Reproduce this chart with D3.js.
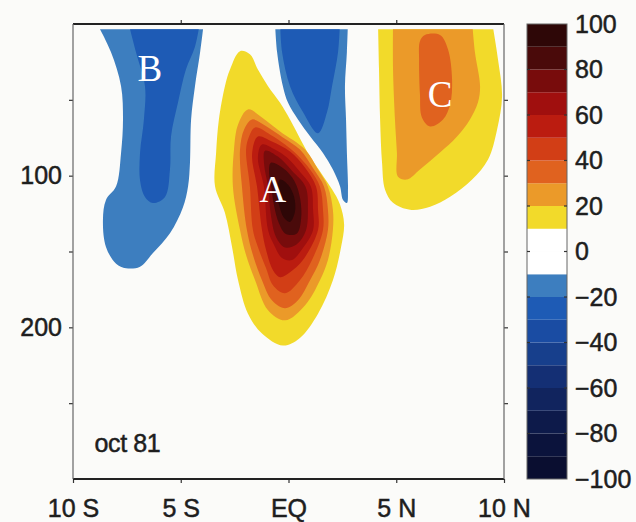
<!DOCTYPE html>
<html>
<head>
<meta charset="utf-8">
<script src="https://cdn.jsdelivr.net/npm/d3@7"></script>
<style>
  body { margin: 0; background: #fbfbf9; }
  svg { display: block; font-family: "Liberation Sans", Arial, sans-serif; }
</style>
</head>
<body>
<svg id="chart" width="636" height="522"></svg>
<script>
// axis ticks and labels
var latTicks   = [-10, -5, 0, 5, 10];
var latLabels  = ['10 S', '5 S', 'EQ', '5 N', '10 N'];
var depthTicks = [50, 100, 150, 200, 250];
var depthLabels = [100, 200];
var cbTicks    = [-100, -80, -60, -40, -20, 0, 20, 40, 60, 80, 100];

// colour levels (edges) and one colour per bin
var levels    = [-100, -90, -80, -70, -60, -50, -40, -30, -20, -10, 0, 10, 20, 30, 40, 50, 60, 70, 80, 90, 100];
var binColors = ['#0a0e30', '#0b133c', '#0d1a4a', '#11245e', '#142f74', '#173f8c', '#1a4ca3', '#1e5bb5', '#3d7ebf', '#ffffff',
                 '#ffffff', '#f2da2a', '#eb9a29', '#e0621f', '#d23e16', '#bb1c10', '#a00f0e', '#780c0c', '#4a0a0a', '#2e0707'];

// contour outlines, [latitude, depth]
// "B" westward core south of the equator
var bNeg10 = [[-8.95,-2],[-8.24,18.5],[-7.77,41],[-7.68,63],[-7.77,85],[-8.0,107],[-8.47,116],[-8.61,129],[-8.47,147],[-8.0,158],
              [-7.54,161],[-6.89,160],[-6.29,151],[-5.5,138],[-4.9,121],[-4.66,107],[-4.57,91],[-4.52,63],[-4.34,41],[-4.1,18.5],[-3.92,-2]];
var bNeg20 = [[-7.45,-2],[-7.08,18.5],[-6.66,41],[-6.71,63],[-6.89,85],[-6.89,103],[-6.66,114],[-6.29,118],[-5.73,114],[-5.5,96],
              [-5.45,74],[-5.13,52],[-4.76,30],[-4.34,15],[-4.1,-2]];
// surface westward flow at the equator
var eqNeg10 = [[-0.63,-2],[-0.53,18.5],[-0.26,41],[-0.02,52],[0.44,63],[1.0,74],[1.6,85],[2.06,96],[2.39,107],[2.53,116],
               [2.71,118],[2.76,109],[2.71,85],[2.67,63],[2.62,41],[2.71,18.5],[2.76,-2]];
var eqNeg20 = [[-0.39,-2],[-0.3,18.5],[0.07,41],[0.67,58],[1.37,72],[1.79,58],[2.02,41],[2.3,18.5],[2.39,-2]];
// "A" undercurrent
var a10 = [[-2.25,17.9],[-2.71,29.8],[-2.95,41],[-3.23,63],[-3.36,85],[-3.41,107],[-2.95,124.5],[-2.62,147],[-2.34,169],[-1.88,191],
           [-1.23,204],[-0.26,212],[0.53,207],[1.37,191],[2.06,169],[2.44,147],[2.58,132],[2.39,119],[2.02,109],[1.55,99],
           [0.9,85],[0.07,63],[-0.39,52],[-0.95,41],[-1.42,30],[-1.79,20]];
var a20 = [[-1.88,56.3],[-1.23,61.6],[-0.39,70.9],[0.77,82.8],[1.37,96],[1.83,107.3],[2.06,122.5],[2.06,135.8],[1.83,155.6],[1.46,168.9],
           [0.77,185.4],[-0.16,195.4],[-0.95,188.7],[-1.55,168.9],[-1.97,152.3],[-2.25,135.8],[-2.58,107.3],[-2.53,82.8],[-2.34,66.2]];
var a30 = [[-1.69,62.9],[-1.09,66.9],[-0.26,74.8],[0.53,82.8],[1.18,96],[1.65,107.3],[1.83,122.5],[1.83,135.8],[1.46,155.6],[1.0,168.9],
           [0.44,182.1],[-0.16,187.4],[-0.77,182.1],[-1.23,168.9],[-1.65,152.3],[-1.93,135.8],[-2.16,107.3],[-2.25,82.8],[-2.06,69.5]];
var a40 = [[-1.55,68.2],[-0.86,72.8],[-0.16,79.5],[0.39,86.1],[1.0,96],[1.46,107.3],[1.6,122.5],[1.6,135.8],[1.09,155.6],[0.53,168.9],
           [-0.16,177.5],[-0.72,172.2],[-1.04,161],[-1.37,149],[-1.65,135.8],[-1.79,107.3],[-1.97,82.8],[-1.83,74.2]];
var a50 = [[-1.42,74.2],[-0.77,77.5],[0.07,84.1],[0.77,94.7],[1.28,107.3],[1.37,122.5],[1.37,135.8],[0.67,155.6],[0.07,163.6],[-0.39,166.9],
           [-0.72,162.3],[-1.04,149],[-1.23,135.8],[-1.46,107.3],[-1.69,86.1]];
var a60 = [[-1.23,79.5],[-0.63,82.8],[-0.07,88.1],[0.53,97.4],[1.04,107.3],[1.14,122.5],[1.14,135.8],[0.67,147.7],[0.16,155.6],[-0.3,154.3],
           [-0.67,145.7],[-0.95,135.8],[-1.14,107.3],[-1.42,88.1]];
var a70 = [[-1.09,83.5],[-0.49,87.4],[0.16,96.7],[0.79,107.3],[0.9,122.5],[0.8,136.5],[0.37,145.4],[-0.16,147.4],[-0.58,140.4],[-0.82,125.8],
           [-0.95,107.3],[-1.13,92.7]];
var a80 = [[-0.82,91.5],[-0.23,95.3],[0.28,103.7],[0.55,115.9],[0.58,129.1],[0.39,138.1],[-0.12,138.4],[-0.44,131.5],[-0.68,119.2],[-0.8,107.3],[-0.9,98.6]];
var a90 = [[-0.39,102.6],[-0.02,106],[0.26,113.9],[0.3,123.8],[0.07,130.5],[-0.21,127.8],[-0.44,119.2],[-0.53,110.6]];
// "C" eastward flow north of the equator
var c10 = [[4.15,-2],[4.2,29.8],[4.25,62.9],[4.34,91.4],[4.48,109.3],[4.85,117.9],[5.64,122.5],[6.57,120.5],[7.5,113.9],[8.52,102.6],
           [9.26,89.4],[9.68,69.5],[9.91,47.7],[9.72,23.2],[9.44,-2]];
var c20 = [[4.85,-2],[4.85,29.8],[4.94,62.9],[5.03,84.8],[5.08,100.7],[5.5,102.6],[6.1,96],[7.03,84.8],[7.82,74.2],[8.42,62.9],
           [8.79,51.7],[8.89,41.1],[8.65,18.5],[8.52,-2]];
var c30 = [[6.33,7.3],[7.03,7.3],[7.4,16.6],[7.59,36.4],[7.5,53],[7.17,62.9],[6.57,67.5],[6.19,61.6],[6.1,46.4],[6.06,23.2],[6.1,11.3]];

var layerPts    = [bNeg10, bNeg20, eqNeg10, eqNeg20, a10, a20, a30, a40, a50, a60, a70, a80, a90, c10, c20, c30];
var layerLevels = [-10, -20, -10, -20, 10, 20, 30, 40, 50, 60, 70, 80, 90, 10, 20, 30];

var letters   = ['B', 'A', 'C'];
var letterPos = [[-6.43, 29.8], [-0.72, 109.3], [7.03, 47]];

var svg = d3.select('#chart');

var x = d3.scaleLinear().domain([-10, 10]).range([73, 504]);
var y = d3.scaleLinear().domain([0, 300]).range([24, 479]);
var cbY = d3.scaleLinear().domain([-100, 100]).range([479, 24]);
var color = d3.scaleThreshold().domain(levels.slice(1, -1)).range(binColors);

// the data start just under the surface, so clip a little below the top frame
svg.append('clipPath').attr('id', 'plotClip')
   .append('rect')
   .attr('x', x(-10)).attr('y', y(3.5))
   .attr('width', x(10) - x(-10)).attr('height', y(300) - y(3.5));

var gField = svg.append('g').attr('clip-path', 'url(#plotClip)');

var closedLine = d3.line().x(function(d) { return x(d[0]); }).y(function(d) { return y(d[1]); })
                   .curve(d3.curveCatmullRomClosed.alpha(0.5));
var openLine   = d3.line().x(function(d) { return x(d[0]); }).y(function(d) { return y(d[1]); })
                   .curve(d3.curveCatmullRom.alpha(0.5));

layerPts.forEach(function(pts, i) {
    var lev = layerLevels[i];
    var touchesTop = pts[0][1] < 0;   // shapes reaching the surface are closed along the top
    gField.append('path')
        .attr('d', (touchesTop ? openLine : closedLine)(pts))
        .attr('fill', color(lev + (lev > 0 ? 5 : -5)));
});

// letters on the cores
svg.selectAll('text.core')
   .data(letters)
   .enter().append('text')
   .attr('class', 'core')
   .attr('x', function(d, i) { return x(letterPos[i][0]); })
   .attr('y', function(d, i) { return y(letterPos[i][1]); })
   .attr('dy', '0.33em')
   .attr('text-anchor', 'middle')
   .style('font-family', '"Liberation Serif", "Times New Roman", serif')
   .style('font-size', '37px')
   .attr('fill', '#ffffff')
   .text(function(d) { return d; });

// axes
function styleAxis(g) {
    g.select('.domain').remove();
    g.selectAll('.tick line').attr('stroke', '#333').attr('stroke-width', 1.2);
    g.selectAll('.tick text').style('font-size', '25px').attr('fill', '#1e1e1e')
     .attr('stroke', '#1e1e1e').attr('stroke-width', 0.5);
}

var xAxis = d3.axisBottom(x).tickValues(latTicks)
              .tickFormat(function(d, i) { return latLabels[i]; })
              .tickSizeInner(4).tickSizeOuter(0).tickPadding(16);
svg.append('g').attr('transform', 'translate(0,' + y(300) + ')').call(xAxis).call(styleAxis);

var xAxisTop = d3.axisTop(x).tickValues(latTicks.slice(1, -1)).tickFormat('').tickSize(4);
svg.append('g').attr('transform', 'translate(0,' + y(0) + ')').call(xAxisTop).call(styleAxis);

var yAxis = d3.axisLeft(y).tickValues(depthTicks)
              .tickFormat(function(d) { return depthLabels.indexOf(d) >= 0 ? d : ''; })
              .tickSizeInner(4).tickSizeOuter(0).tickPadding(7);
svg.append('g').attr('transform', 'translate(' + x(-10) + ',0)').call(yAxis).call(styleAxis);

var yAxisRight = d3.axisRight(y).tickValues(depthTicks).tickFormat('').tickSize(4);
svg.append('g').attr('transform', 'translate(' + x(10) + ',0)').call(yAxisRight).call(styleAxis);

// frame: top and bottom heavier than the sides
svg.append('line').attr('x1', x(-10)).attr('x2', x(10)).attr('y1', y(0)).attr('y2', y(0))
   .attr('stroke', '#222').attr('stroke-width', 2);
svg.append('line').attr('x1', x(-10)).attr('x2', x(10)).attr('y1', y(300)).attr('y2', y(300))
   .attr('stroke', '#222').attr('stroke-width', 2);
svg.append('line').attr('x1', x(-10)).attr('x2', x(-10)).attr('y1', y(0)).attr('y2', y(300))
   .attr('stroke', '#666').attr('stroke-width', 1.2);
svg.append('line').attr('x1', x(10)).attr('x2', x(10)).attr('y1', y(0)).attr('y2', y(300))
   .attr('stroke', '#666').attr('stroke-width', 1.2);

svg.append('text')
   .attr('x', x(-9)).attr('y', y(282))
   .style('font-size', '25px').style('letter-spacing', '-0.4px')
   .attr('fill', '#1e1e1e').attr('stroke', '#1e1e1e').attr('stroke-width', 0.5)
   .text('oct 81');

// colour bar
var cbX = 527, cbW = 40;
var cb = svg.append('g');
cb.selectAll('rect.bin')
  .data(binColors)
  .enter().append('rect')
  .attr('class', 'bin')
  .attr('x', cbX).attr('width', cbW)
  .attr('y', function(d, i) { return cbY(levels[i + 1]); })
  .attr('height', function(d, i) { return cbY(levels[i]) - cbY(levels[i + 1]); })
  .attr('fill', function(d) { return d; });

cb.append('rect').attr('x', cbX).attr('y', cbY(100)).attr('width', cbW).attr('height', cbY(-100) - cbY(100))
  .attr('fill', 'none').attr('stroke', '#666').attr('stroke-width', 1);

cb.selectAll('g.inTick')
  .data(cbTicks.slice(1, -1))
  .enter().append('g')
  .attr('class', 'inTick')
  .each(function(d) {
      d3.select(this).append('line').attr('x1', cbX).attr('x2', cbX + 3).attr('y1', cbY(d)).attr('y2', cbY(d))
        .attr('stroke', '#333').attr('stroke-width', 1.2);
      d3.select(this).append('line').attr('x1', cbX + cbW - 3).attr('x2', cbX + cbW).attr('y1', cbY(d)).attr('y2', cbY(d))
        .attr('stroke', '#333').attr('stroke-width', 1.2);
  });

var cbAxis = d3.axisRight(cbY).tickValues(cbTicks).tickSize(0).tickPadding(8);
svg.append('g').attr('transform', 'translate(' + (cbX + cbW) + ',0)').call(cbAxis).call(styleAxis);
</script>
</body>
</html>
